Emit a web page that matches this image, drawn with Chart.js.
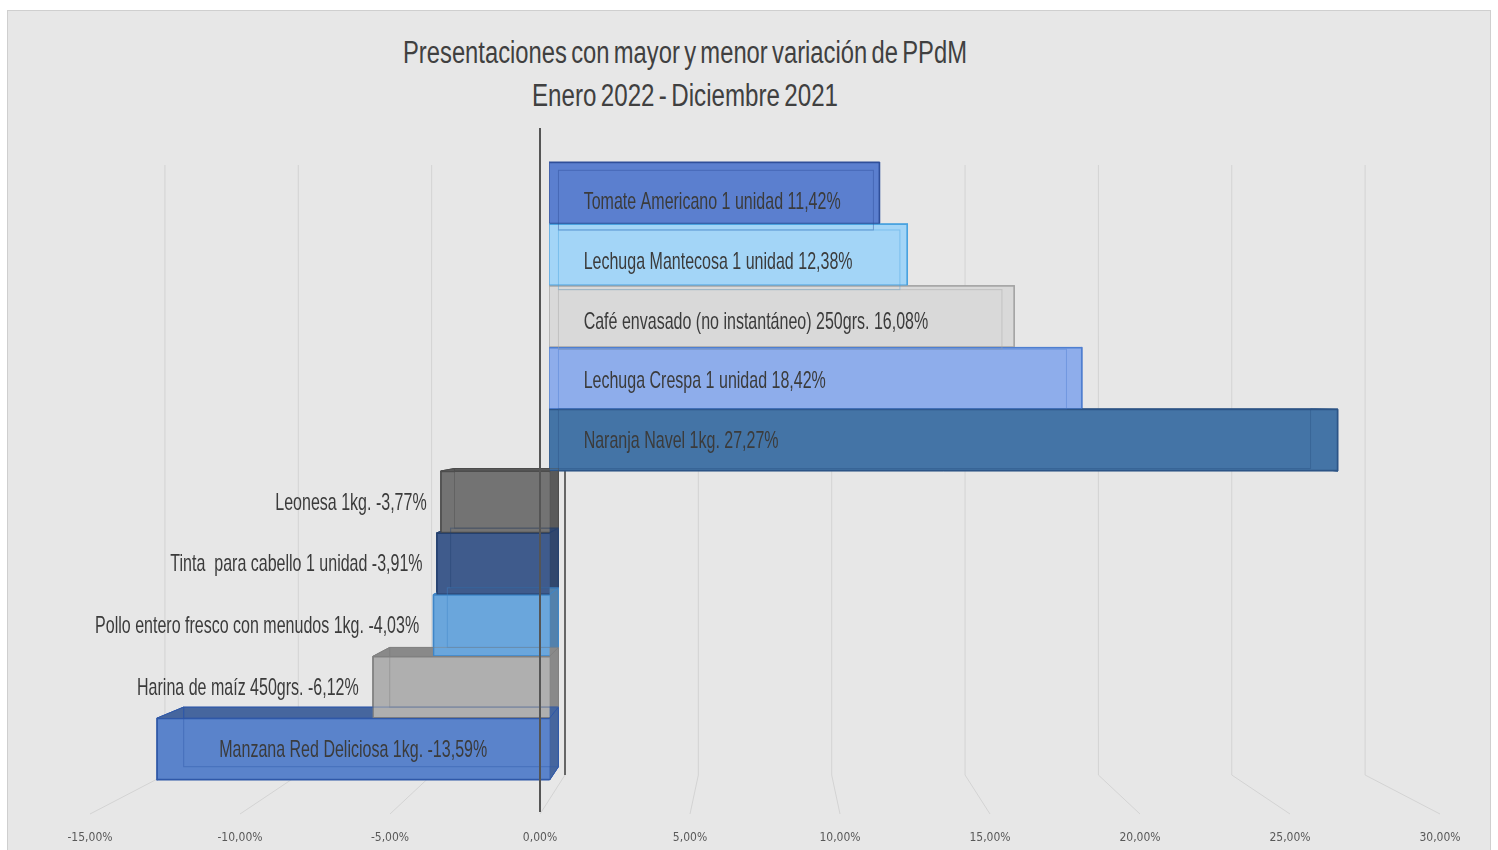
<!DOCTYPE html>
<html>
<head>
<meta charset="utf-8">
<script src="https://cdn.jsdelivr.net/npm/chart.js@4.4.1/dist/chart.umd.min.js"></script>
<style>
  html, body { margin: 0; background: #fff; overflow: hidden; }
  #marco { position: absolute; left: 7px; top: 10px; width: 1484px; height: 845px; box-sizing: border-box; background: #e7e7e7; border: 1px solid #cfcfcf; }
  .titulo { position: absolute; left: 685px; font-family: "Liberation Sans", sans-serif; font-size: 31px; line-height: 40px; word-spacing: -3px; color: #404040; white-space: nowrap; }
  #grafico { position: absolute; left: 0; top: 0; }
</style>
</head>
<body>
<div id="marco"></div>
<div class="titulo" id="t1" data-w="564" style="top:33px">Presentaciones con mayor y menor variación de PPdM</div>
<div class="titulo" id="t2" data-w="306" style="top:76px">Enero 2022 - Diciembre 2021</div>
<canvas id="grafico" width="1498" height="850"></canvas>
<script>
var categorias = [
  "Tomate Americano 1 unidad",
  "Lechuga Mantecosa 1 unidad",
  "Café envasado (no instantáneo) 250grs.",
  "Lechuga Crespa 1 unidad",
  "Naranja Navel 1kg.",
  "Leonesa 1kg.",
  "Tinta  para cabello 1 unidad",
  "Pollo entero fresco con menudos 1kg.",
  "Harina de maíz 450grs.",
  "Manzana Red Deliciosa 1kg."
];
var variacion = [11.42, 12.38, 16.08, 18.42, 27.27, -3.77, -3.91, -4.03, -6.12, -13.59];
var colores = ["#5b7fcf", "#a3d5f7", "#d9d9d9", "#8eadeb", "#4474a6", "#737373", "#3f5b8c", "#6aa6dc", "#afafaf", "#5a83cb"];
var bordes = ["#2f4f9a", "#4aa3e0", "#a6a6a6", "#4f7fd0", "#2c5486", "#4d4d4d", "#24406e", "#3f86c8", "#808080", "#2f58a8"];
var ticksX = [-15, -10, -5, 0, 5, 10, 15, 20, 25, 30];

var FUENTE = '"Liberation Sans", sans-serif';

// titulo angosto como en el original
["t1", "t2"].forEach(function (id) {
  var d = document.getElementById(id);
  var w = d.getBoundingClientRect().width;
  var k = parseFloat(d.dataset.w) / w;
  d.style.transformOrigin = "0 0";
  d.style.transform = "translateX(" + (-w * k / 2) + "px) scaleX(" + k + ")";
});

function pct(v) { return v.toFixed(2).replace(".", ",") + "%"; }

function oscurecer(hex, f) {
  var n = parseInt(hex.slice(1), 16);
  var r = Math.round(((n >> 16) & 255) * f), g = Math.round(((n >> 8) & 255) * f), b = Math.round((n & 255) * f);
  return "rgb(" + r + "," + g + "," + b + ")";
}

// caja 3D: la cara trasera se achica hacia un punto de fuga
function caja(chart, el) {
  var p = el.getProps(["x", "y", "base", "height"], true);
  var a = chart.chartArea;
  var vx = chart.scales.xb.getPixelForValue(0) + 192, vy = a.top + 238;
  var l = Math.min(p.x, p.base), r = Math.max(p.x, p.base), t = p.y - p.height / 2, b = p.y + p.height / 2;
  var bx = function (X) { return vx + 0.954 * (X - vx); };
  var by = function (Y) { return vy + 0.965 * (Y - vy); };
  return { l: l, r: r, t: t, b: b, bl: bx(l), br: bx(r), bt: by(t), bb: by(b), y: p.y, vy: a.top + 328 };
}

function poli(ctx, pts) {
  ctx.beginPath();
  ctx.moveTo(pts[0][0], pts[0][1]);
  for (var i = 1; i < pts.length; i++) ctx.lineTo(pts[i][0], pts[i][1]);
  ctx.closePath();
}

var efecto3d = {
  id: "efecto3d",
  beforeDatasetsDraw: function (chart) {
    var ctx = chart.ctx, sx = chart.scales.x, a = chart.chartArea;
    var x0 = sx.getPixelForValue(0);
    ctx.save();
    // lineas de piso en perspectiva
    ctx.strokeStyle = "#d3d3d3";
    ctx.lineWidth = 1;
    ticksX.forEach(function (v) {
      var f = sx.getPixelForValue(v), b = x0 + 25 + (f - x0) * 0.889;
      ctx.beginPath();
      ctx.moveTo(b, a.top + 3);
      ctx.lineTo(b, a.bottom - 5);
      ctx.lineTo(f, a.bottom + 34);
      ctx.stroke();
    });
    var meta = chart.getDatasetMeta(0);
    // eje trasero
    var c4 = caja(chart, meta.data[4]);
    ctx.strokeStyle = "#666";
    ctx.lineWidth = 2;
    ctx.beginPath();
    ctx.moveTo(x0 + 25, c4.t);
    ctx.lineTo(x0 + 25, a.bottom - 5);
    ctx.stroke();
    // caras laterales
    meta.data.forEach(function (el, i) {
      var c = caja(chart, el);
      ctx.fillStyle = oscurecer(colores[i], 0.78);
      ctx.strokeStyle = bordes[i];
      ctx.lineWidth = 1;
      [[[c.l, c.t], [c.r, c.t], [c.br, c.bt], [c.bl, c.bt]],
       [[c.l, c.b], [c.r, c.b], [c.br, c.bb], [c.bl, c.bb]],
       [[c.l, c.t], [c.l, c.b], [c.bl, c.bb], [c.bl, c.bt]],
       [[c.r, c.t], [c.r, c.b], [c.br, c.bb], [c.br, c.bt]]].forEach(function (f) {
        poli(ctx, f);
        ctx.fill();
        ctx.stroke();
      });
    });
    ctx.restore();
  },
  afterDatasetsDraw: function (chart) {
    var ctx = chart.ctx, sx = chart.scales.x, a = chart.chartArea;
    var meta = chart.getDatasetMeta(0);
    ctx.save();
    // aristas traseras vistas a traves de la cara frontal
    meta.data.forEach(function (el, i) {
      var c = caja(chart, el);
      ctx.strokeStyle = bordes[i];
      ctx.globalAlpha = 0.45;
      ctx.lineWidth = 1;
      ctx.strokeRect(c.bl, c.bt, c.br - c.bl, c.bb - c.bt);
      ctx.globalAlpha = 1;
    });
    // eje vertical frontal
    var x0 = sx.getPixelForValue(0);
    ctx.strokeStyle = "#555";
    ctx.lineWidth = 2;
    ctx.beginPath();
    ctx.moveTo(x0, a.top - 34);
    ctx.lineTo(x0, a.bottom + 32);
    ctx.stroke();
    // etiquetas de datos (letra angosta)
    ctx.fillStyle = "#3b3b3b";
    ctx.font = "24px " + FUENTE;
    ctx.textBaseline = "middle";
    var k = 257 / ctx.measureText(categorias[0] + " " + pct(variacion[0])).width;
    meta.data.forEach(function (el, i) {
      var c = caja(chart, el);
      var txt = categorias[i] + " " + pct(variacion[i]);
      var ty = c.y + Math.max(1, (c.vy - c.y) * 0.032);
      var v = variacion[i];
      var w = ctx.measureText(txt).width * k;
      var x;
      if (v >= 0) x = c.l + 34;
      else if (v < -10) x = (c.l + c.r) / 2 - w / 2;
      else x = c.l - 14 - w;
      ctx.save();
      ctx.translate(x, ty);
      ctx.scale(k, 1);
      ctx.textAlign = "left";
      ctx.fillText(txt, 0, 0);
      ctx.restore();
    });
    ctx.restore();
  }
};

new Chart(document.getElementById("grafico").getContext("2d"), {
  type: "bar",
  data: {
    labels: categorias,
    datasets: [{
      data: variacion,
      xAxisID: "xb",
      yAxisID: "y",
      backgroundColor: colores,
      borderColor: bordes,
      borderWidth: 1.5,
      barPercentage: 1,
      categoryPercentage: 1
    }]
  },
  options: {
    indexAxis: "y",
    responsive: false,
    animation: false,
    layout: { padding: { left: 90, right: 58, top: 162, bottom: 6 } },
    plugins: { legend: { display: false }, title: { display: false }, tooltip: { enabled: false } },
    scales: {
      y: { type: "category", display: false },
      xb: { type: "linear", axis: "x", display: false, min: -15.9, max: 30.8 },
      x: {
        type: "linear",
        position: "bottom",
        min: -15,
        max: 30,
        grid: { display: false },
        border: { display: false },
        afterFit: function (s) { s.height = 64; s.paddingLeft = 0; s.paddingRight = 0; },
        ticks: {
          stepSize: 5,
          padding: 43,
          maxRotation: 0,
          color: "#595959",
          font: { family: '"DejaVu Sans Condensed", sans-serif', size: 12 },
          callback: function (v) { return pct(v); }
        }
      }
    }
  },
  plugins: [efecto3d]
});
</script>
</body>
</html>
